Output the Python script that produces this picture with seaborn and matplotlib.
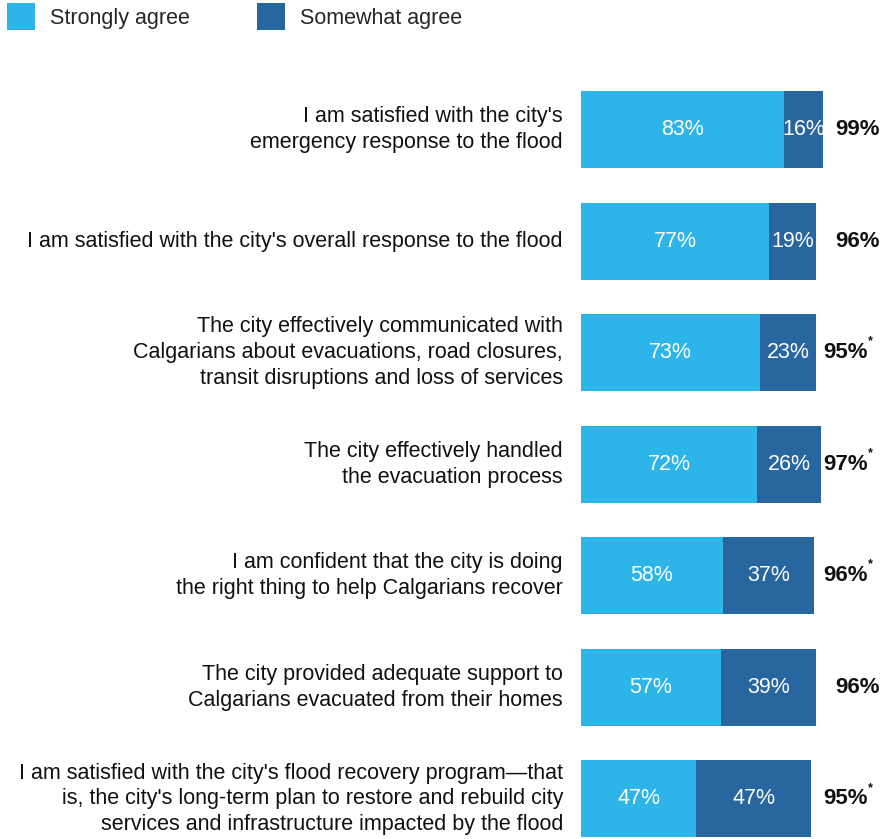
import matplotlib
matplotlib.use("Agg")
import matplotlib.pyplot as plt
import seaborn as sns
import pandas as pd
from matplotlib.patches import Patch

# Dados
categorias = [
    "I am satisfied with the city's\nemergency response to the flood",
    "I am satisfied with the city's overall response to the flood",
    "The city effectively communicated with\nCalgarians about evacuations, road closures,\ntransit disruptions and loss of services",
    "The city effectively handled\nthe evacuation process",
    "I am confident that the city is doing\nthe right thing to help Calgarians recover",
    "The city provided adequate support to\nCalgarians evacuated from their homes",
    "I am satisfied with the city's flood recovery program\u2014that\nis, the city's long-term plan to restore and rebuild city\nservices and infrastructure impacted by the flood",
]
fortemente = [83, 77, 73, 72, 58, 57, 47]
parcialmente = [16, 19, 23, 26, 37, 39, 47]
totais = ["99%", "96%", "95%", "97%", "96%", "96%", "95%"]
asterisco = [False, False, True, True, True, False, True]

COR_CLARA = "#2DB4E8"
COR_ESCURA = "#2866A0"

df = pd.DataFrame({"categoria": categorias, "forte": fortemente, "parcial": parcialmente})
df["total"] = df["forte"] + df["parcial"]

sns.set_theme(style="white")
plt.rcParams["font.family"] = ["Liberation Sans", "DejaVu Sans"]

fig = plt.figure(figsize=(8.87, 8.39), dpi=100)
ax = fig.add_axes([581 / 887, 0, 306 / 887, 1 - 75 / 839])

# barra total (escura) por baixo, depois a parte "fortemente" por cima
sns.barplot(data=df, x="total", y="categoria", color=COR_ESCURA, saturation=1,
            width=0.69, orient="h", linewidth=0, edgecolor="none", ax=ax)
sns.barplot(data=df, x="forte", y="categoria", color=COR_CLARA, saturation=1,
            width=0.69, orient="h", linewidth=0, edgecolor="none", ax=ax)

ax.set_xlim(0, 125)
ax.set_ylim(6.36, -0.49)
ax.set_xlabel("")
ax.set_ylabel("")
ax.set_xticks([])
for s in ax.spines.values():
    s.set_visible(False)
ax.tick_params(axis="y", length=0, pad=13, labelsize=15.5, labelcolor="#111111")
for lab in ax.get_yticklabels():
    lab.set_multialignment("right")
    lab.set_verticalalignment("center")
    lab.set_linespacing(1.3)

# rótulos dentro das barras e totais
for i, row in df.iterrows():
    ax.text(row["forte"] / 2, i, f"{row['forte']}%", ha="center", va="center",
            color="white", fontsize=15.5)
    ax.text(row["forte"] + row["parcial"] / 2, i, f"{row['parcial']}%", ha="center",
            va="center", color="white", fontsize=15.5)
    xr = 117 if asterisco[i] else 122
    ax.text(xr, i, totais[i], ha="right", va="center", color="#111111",
            fontsize=16, fontweight="bold")
    if asterisco[i]:
        ax.text(xr + 0.4, i - 0.1, "*", ha="left", va="center", color="#111111",
                fontsize=9, fontweight="bold")

handles = [Patch(facecolor=COR_CLARA, edgecolor="none", label="Strongly agree"),
           Patch(facecolor=COR_ESCURA, edgecolor="none", label="Somewhat agree")]
fig.legend(handles=handles, loc="upper left", bbox_to_anchor=(7 / 887, 1 - 3 / 839),
           ncol=2, frameon=False, fontsize=15.5, handlelength=1.3, handleheight=1.55,
           handletextpad=0.7, columnspacing=3.1, borderpad=0, borderaxespad=0)

fig.savefig("out.png", dpi=100)
